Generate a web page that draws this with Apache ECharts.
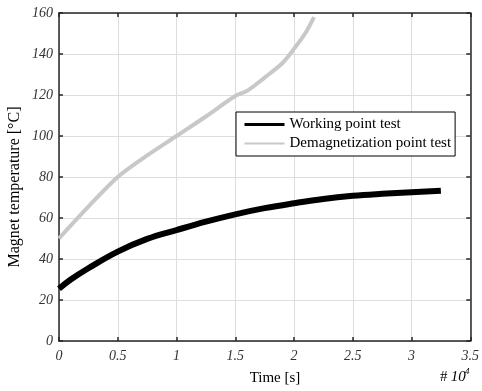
<!DOCTYPE html>
<html>
<head>
<meta charset="utf-8">
<script src="https://cdn.jsdelivr.net/npm/echarts@6/dist/echarts.min.js"></script>
<style>
  html, body { margin: 0; padding: 0; background: #fff; }
  #chart { width: 482px; height: 391px; }
</style>
</head>
<body>
<div id="chart"></div>
<script>
// time in units of 10^4 s
const workingTime = [0, 0.1, 0.25, 0.5, 0.75, 1, 1.25, 1.5, 1.75, 2, 2.25, 2.5, 2.75, 3, 3.25];
const workingTemp = [25.5, 30, 35.5, 43.6, 49.8, 54.1, 58.2, 61.8, 64.8, 67.2, 69.3, 70.8, 71.8, 72.6, 73.3];

const demagTime = [0, 0.25, 0.5, 0.75, 1, 1.25, 1.5, 1.6, 1.75, 1.9, 2, 2.1, 2.17];
const demagTemp = [50, 65.5, 80, 90.5, 100, 109.5, 119.5, 122, 128.5, 135.5, 142.5, 150.5, 158];

const seriesNames = ['Working point test', 'Demagnetization point test'];

const serif = 'Liberation Serif, Times New Roman, serif';
const axisColor = '#262626';
const gridColor = '#dedede';

const pairs = (xs, ys) => xs.map((x, i) => [x, ys[i]]);

const chart = echarts.init(document.getElementById('chart'));

const xBase = {
  type: 'value', min: 0, max: 3.5, interval: 0.5,
  axisLine: { show: true, onZero: false, lineStyle: { color: axisColor, width: 1.5 } },
  axisTick: { show: true, inside: true, length: 4, lineStyle: { color: axisColor, width: 1.5 } }
};
const yBase = {
  type: 'value', min: 0, max: 160, interval: 20,
  axisLine: { show: true, onZero: false, lineStyle: { color: axisColor, width: 1.5 } },
  axisTick: { show: true, inside: true, length: 4, lineStyle: { color: axisColor, width: 1.5 } }
};

chart.setOption({
  animation: false,
  backgroundColor: '#fff',
  grid: { left: 59, right: 8, top: 13, bottom: 50 },
  legend: {
    show: true,
    orient: 'vertical',
    left: 236, top: 112,
    padding: [5, 4, 5, 7],
    itemGap: 4,
    itemWidth: 40, itemHeight: 14,
    borderColor: '#000', borderWidth: 1,
    backgroundColor: '#fff',
    itemStyle: { opacity: 0 },
    textStyle: { fontFamily: serif, fontSize: 15, color: '#000' },
    data: [
      { name: seriesNames[0], lineStyle: { width: 3 } },
      { name: seriesNames[1], lineStyle: { width: 2 } }
    ]
  },
  xAxis: [
    Object.assign({}, xBase, {
      position: 'bottom',
      axisLabel: { fontFamily: serif, fontStyle: 'italic', fontSize: 14, color: '#333', margin: 8,
        formatter: v => (v === 0 ? '0' : String(v)) },
      splitLine: { show: true, lineStyle: { color: gridColor, width: 1 } }
    }),
    Object.assign({}, xBase, { position: 'top', axisLabel: { show: false }, splitLine: { show: false } })
  ],
  yAxis: [
    Object.assign({}, yBase, {
      position: 'left',
      axisLabel: { fontFamily: serif, fontStyle: 'italic', fontSize: 14, color: '#333', margin: 6 },
      splitLine: { show: true, lineStyle: { color: gridColor, width: 1 } }
    }),
    Object.assign({}, yBase, { position: 'right', axisLabel: { show: false }, splitLine: { show: false } })
  ],
  graphic: [
    {
      type: 'text', x: 15, y: 187, rotation: Math.PI / 2,
      style: { text: 'Magnet temperature [°C]', fontFamily: serif, fontSize: 16, fill: '#000',
        textAlign: 'center', textVerticalAlign: 'middle' }
    },
    {
      type: 'text', x: 275, y: 378,
      style: { text: 'Time [s]', fontFamily: serif, fontSize: 15, fill: '#000',
        textAlign: 'center', textVerticalAlign: 'middle' }
    },
    {
      type: 'text', left: 440, top: 370,
      style: {
        text: '{a|#} {b|10}',
        rich: {
          a: { fontFamily: serif, fontSize: 15, fill: '#000' },
          b: { fontFamily: serif, fontSize: 15, fontStyle: 'italic', fill: '#000' }
        }
      }
    },
    {
      type: 'text', left: 465, top: 367,
      style: { text: '4', fontFamily: serif, fontSize: 9, fontStyle: 'italic', fill: '#000' }
    }
  ],
  series: [
    {
      name: seriesNames[0], type: 'line', smooth: 0.4, symbol: 'none',
      data: pairs(workingTime, workingTemp),
      lineStyle: { color: '#000', width: 6 }, itemStyle: { color: '#000' }
    },
    {
      name: seriesNames[1], type: 'line', smooth: 0.3, symbol: 'none',
      data: pairs(demagTime, demagTemp),
      lineStyle: { color: '#c8c8c8', width: 4 }, itemStyle: { color: '#c8c8c8' }
    }
  ]
});
</script>
</body>
</html>
